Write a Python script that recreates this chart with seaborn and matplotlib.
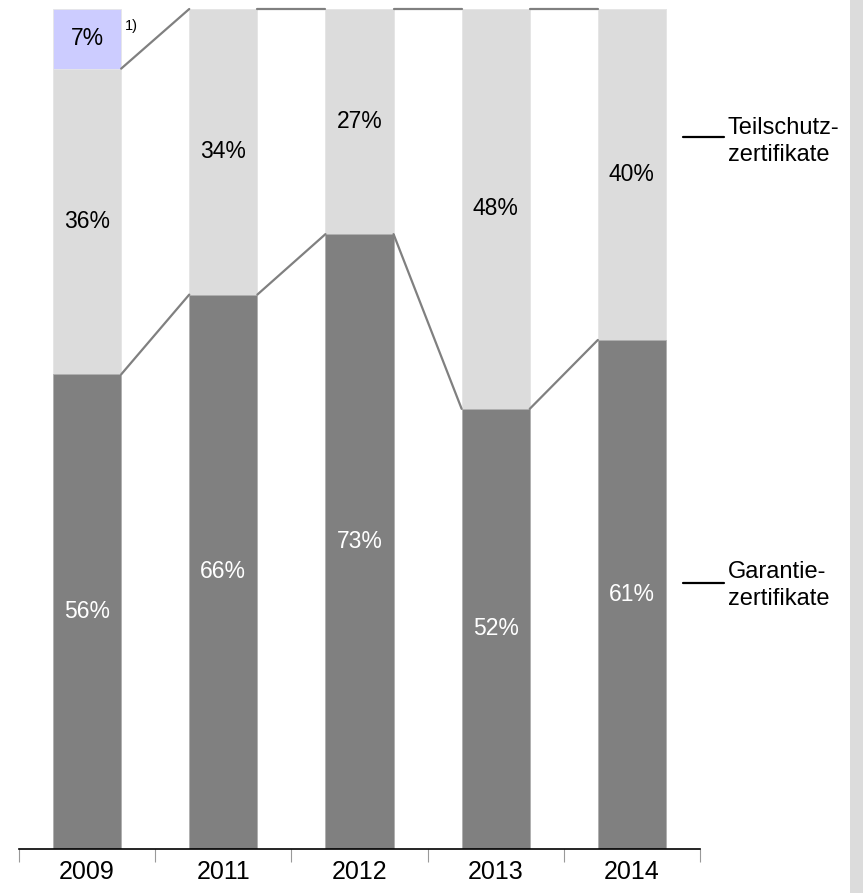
import matplotlib
matplotlib.use("Agg")
import matplotlib.pyplot as plt
import pandas as pd
import seaborn as sns
from matplotlib.patches import Rectangle

# Data (share of product type in %)
years = ["2009", "2011", "2012", "2013", "2014"]
garantie = [56.5, 66.0, 73.2, 52.4, 60.6]
teilschutz = [36.4, 34.0, 26.8, 47.6, 39.4]
other = [7.1, 0.0, 0.0, 0.0, 0.0]
garantie_lbl = [56, 66, 73, 52, 61]
teilschutz_lbl = [36, 34, 27, 48, 40]
other_lbl = [7, None, None, None, None]

DARK = "#808080"
LIGHT = "#dcdcdc"
BLUE = "#ccccff"
LINE = "#808080"

sns.set_style("white")
plt.rcParams["font.family"] = ["Liberation Sans", "DejaVu Sans"]
plt.rcParams["text.color"] = "black"
plt.rcParams["xtick.color"] = "black"

df = pd.DataFrame({"year": years, "garantie": garantie, "teilschutz": teilschutz, "other": other})
df["cum2"] = df["garantie"] + df["teilschutz"]
df["cum3"] = df["cum2"] + df["other"]

fig = plt.figure(figsize=(8.63, 8.93), dpi=100)
ax = fig.add_axes([19 / 863, 44 / 893, 681 / 863, 840 / 893])

# stacked by drawing cumulative totals first
bw = 0.5
sns.barplot(data=df, x="year", y="cum3", color=BLUE, width=bw, saturation=1,
            edgecolor="#e6e6e6", linewidth=0.6, ax=ax)
sns.barplot(data=df, x="year", y="cum2", color=LIGHT, width=bw, saturation=1,
            edgecolor="#e6e6e6", linewidth=0.6, ax=ax)
sns.barplot(data=df, x="year", y="garantie", color=DARK, width=bw, saturation=1,
            edgecolor="#b0b0b0", linewidth=0.6, ax=ax)

# connector lines between bars
for i in range(len(years) - 1):
    x0 = i + bw / 2
    x1 = i + 1 - bw / 2
    ax.plot([x0, x1], [df["garantie"][i], df["garantie"][i + 1]], color=LINE, lw=1.6, clip_on=False)
    ax.plot([x0, x1], [df["cum2"][i], df["cum2"][i + 1]], color=LINE, lw=1.6, clip_on=False)

# segment labels
fs = 16.5
for i in range(len(years)):
    g = df["garantie"][i]
    c2 = df["cum2"][i]
    ax.text(i, g / 2, f"{garantie_lbl[i]}%", ha="center", va="center", color="white", fontsize=fs)
    ax.text(i, g + (c2 - g) / 2, f"{teilschutz_lbl[i]}%", ha="center", va="center", color="black", fontsize=fs)
    if other_lbl[i] is not None:
        ax.text(i, c2 + df["other"][i] / 2, f"{other_lbl[i]}%", ha="center", va="center",
                color="black", fontsize=fs)
ax.text(0.28, 98.0, "1)", ha="left", va="center", fontsize=10.5)

# series labels on the right
ax.plot([4.375, 4.676], [84.8, 84.8], color="black", lw=1.6, clip_on=False)
ax.text(4.705, 87.1, "Teilschutz-\nzertifikate", ha="left", va="top", fontsize=17, linespacing=1.3)
ax.plot([4.375, 4.676], [31.7, 31.7], color="black", lw=1.6, clip_on=False)
ax.text(4.705, 34.3, "Garantie-\nzertifikate", ha="left", va="top", fontsize=17, linespacing=1.3)

ax.set_xlim(-0.5, 4.5)
ax.set_ylim(0, 100)
ax.set_xlabel("")
ax.set_ylabel("")
ax.set_yticks([])
for s in ["top", "right", "left"]:
    ax.spines[s].set_visible(False)
ax.spines["bottom"].set_color("black")
ax.spines["bottom"].set_linewidth(1.2)
ax.set_xticks(range(len(years)))
ax.set_xticklabels(years, fontsize=18)
ax.set_xticks([i - 0.5 for i in range(len(years) + 1)], minor=True)
ax.tick_params(axis="x", which="major", length=0, pad=8, bottom=True)
ax.tick_params(axis="x", which="minor", length=9, width=0.8, color="#999999",
               direction="out", bottom=True)

# grey strip on the right edge
fig.patches.append(Rectangle((850 / 863, 0), 13 / 863, 1, transform=fig.transFigure,
                             facecolor="#dcdcdc", edgecolor="none", zorder=-1))

fig.savefig("out.png", dpi=100)
